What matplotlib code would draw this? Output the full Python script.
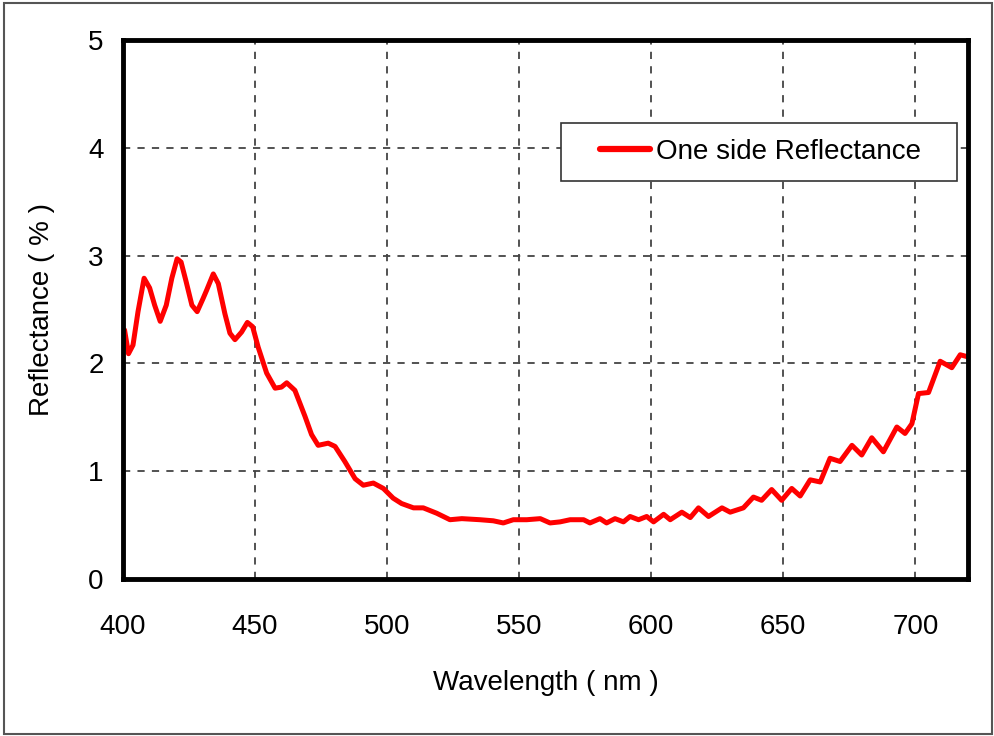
import matplotlib
matplotlib.use("Agg")
import matplotlib.pyplot as plt
from matplotlib.patches import Rectangle

wavelength = [400, 400.6, 402.1, 403.8, 405.7, 408, 410.1, 412, 414.1, 416.4, 418.5, 420.5,
              422, 423.9, 426.1, 428.1, 430.3, 431.7, 434.2, 436.1, 438.6, 440.5, 442.4,
              444.9, 447.1, 449.1, 451.2, 454.4, 457.6, 460, 462, 465.1, 468.9, 471.4,
              473.9, 477.7, 480.3, 484, 487.9, 491, 494.8, 498.6, 502.3, 505.5, 510, 513.7,
              518.8, 523.8, 528.3, 535.2, 540.2, 544, 547.8, 552.9, 558, 561.7, 565.5, 569.3,
              574.4, 576.8, 580.6, 583.1, 586.3, 589.5, 592, 595.2, 598.3, 600.9, 604.7, 607.2,
              611.6, 614.8, 617.9, 621.7, 626.8, 629.9, 634.9, 638.7, 641.8, 645.6, 649.4,
              653.2, 656.4, 660.2, 664, 667.7, 671.5, 676, 679.7, 683.5, 687.9, 693, 696.1,
              698.7, 701.2, 705, 709.4, 713.8, 717, 720]
reflectance = [2.30, 2.31, 2.09, 2.17, 2.48, 2.79, 2.70, 2.54, 2.39, 2.54, 2.79, 2.97,
               2.94, 2.76, 2.54, 2.48, 2.60, 2.68, 2.83, 2.74, 2.46, 2.28, 2.22,
               2.29, 2.38, 2.34, 2.15, 1.91, 1.77, 1.78, 1.82, 1.75, 1.51, 1.34,
               1.24, 1.26, 1.23, 1.09, 0.93, 0.87, 0.89, 0.84, 0.75, 0.70, 0.66, 0.66,
               0.61, 0.55, 0.56, 0.55, 0.54, 0.52, 0.55, 0.55, 0.56, 0.52, 0.53, 0.55,
               0.55, 0.52, 0.56, 0.52, 0.56, 0.53, 0.58, 0.55, 0.58, 0.53, 0.60, 0.55,
               0.62, 0.57, 0.66, 0.58, 0.66, 0.62, 0.66, 0.76, 0.73, 0.83, 0.73,
               0.84, 0.77, 0.92, 0.90, 1.12, 1.09, 1.24, 1.15, 1.31, 1.18, 1.41, 1.35,
               1.44, 1.72, 1.73, 2.02, 1.96, 2.08, 2.06]
x_ticks = [400, 450, 500, 550, 600, 650, 700]
y_ticks = [0, 1, 2, 3, 4, 5]
series_label = "One side Reflectance"

plt.rcParams['font.family'] = ['Liberation Sans Narrow', 'Liberation Sans', 'DejaVu Sans']

fig = plt.figure(figsize=(9.94, 7.36), dpi=100)
fig.patches.append(Rectangle((0.004, 0.003), 0.994, 0.993, transform=fig.transFigure,
                             fill=False, edgecolor='#555555', linewidth=1.5))
ax = fig.add_axes([0.1237, 0.2133, 0.974 - 0.1237, 0.9457 - 0.2133])

ax.plot(wavelength, reflectance, color='#ff0000', linewidth=3.6, label=series_label,
        solid_joinstyle='round', solid_capstyle='round')
ax.set_xlim(400, 720)
ax.set_ylim(0, 5)
ax.set_xticks(x_ticks)
ax.set_yticks(y_ticks)
ax.grid(True, linestyle=(0, (4, 4)), color='#444444', linewidth=1.3)
for s in ax.spines.values():
    s.set_linewidth(3.5)
    s.set_color('black')
ax.tick_params(length=0, labelsize=20, pad=14)
ax.tick_params(axis='x', pad=25)
ax.set_xlabel('Wavelength ( nm )', fontsize=20, labelpad=22)
ax.set_ylabel('Reflectance ( % )', fontsize=20, labelpad=24)

# legend frame
ax.add_patch(Rectangle((0.518, 0.738), 0.469, 0.108, transform=ax.transAxes,
                       facecolor='white', edgecolor='#333333', linewidth=1.2, zorder=4.5))
leg = ax.legend(loc='center left', bbox_to_anchor=(0.5645, 0.792), fontsize=20,
                frameon=False, borderpad=0, borderaxespad=0,
                handlelength=1.8, handletextpad=0.2)
leg.set_zorder(6)
for h in leg.get_lines():
    h.set_linewidth(4.5)
fig.savefig('out.png', dpi=100)
